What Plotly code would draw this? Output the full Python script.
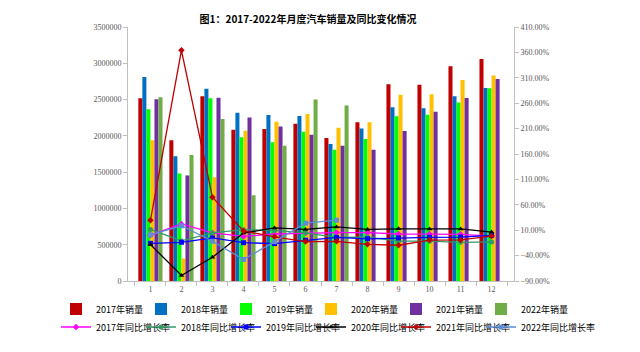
import plotly.graph_objects as go

months = [str(i) for i in range(1, 13)]

sales_2017 = [2518700, 1938700, 2544400, 2084000, 2096000, 2166600, 1969000, 2186100, 2710000, 2705600, 2960000, 3060000]
sales_2018 = [2810600, 1718900, 2650500, 2319100, 2287900, 2273700, 1888800, 2100300, 2394000, 2382000, 2545000, 2660000]
sales_2019 = [2367300, 1481500, 2519600, 1980000, 1913000, 2056000, 1807000, 1958000, 2270000, 2290000, 2460000, 2655000]
sales_2020 = [1940800, 309700, 1429400, 2070000, 2193000, 2300000, 2113000, 2186000, 2565000, 2573000, 2769000, 2831000]
sales_2021 = [2503000, 1454700, 2525700, 2252000, 2128000, 2015000, 1864000, 1808000, 2067000, 2333000, 2521000, 2785000]
sales_2022 = [2531000, 1736600, 2234000, 1181000, 1862000, 2502000, 2420000, None, None, None, None, None]

yoy_2017 = [0.2, 22.4, 4.7, -2.2, 2.5, 4.5, 5.3, 5.3, 2.5, 2.4, 1.9, -1.6]
yoy_2018 = [11.6, -11.1, 4.7, 11.1, 9.6, 4.8, -4.0, -3.8, -11.6, -11.7, -13.9, -13.0]
yoy_2019 = [-15.8, -13.8, -5.2, -14.6, -16.4, -9.6, -4.3, -6.9, -5.2, -4.0, -3.6, -0.1]
yoy_2020 = [-18.0, -79.1, -43.3, 4.4, 14.5, 11.6, 16.4, 11.6, 12.8, 12.5, 12.6, 6.4]
yoy_2021 = [29.5, 364.2, 74.9, 8.6, -3.1, -12.4, -11.9, -17.8, -19.6, -9.4, -9.1, -1.6]
yoy_2022 = [0.9, 18.7, -11.7, -47.6, -12.6, 23.8, 29.7, None, None, None, None, None]

bar_names = ["2017年销量", "2018年销量", "2019年销量", "2020年销量", "2021年销量", "2022年销量"]
line_names = ["2017年同比增长率", "2018年同比增长率", "2019年同比增长率", "2020年同比增长率", "2021年同比增长率", "2022年同比增长率"]
bar_colors = ["#C00000", "#0070C0", "#00FF00", "#FFC000", "#7030A0", "#70AD47"]
line_colors = ["#FF00FF", "#339966", "#0000FF", "#000000", "#C00000", "#5B8DD9"]
line_symbols = ["diamond", "circle", "square", "triangle-up", "diamond", "square"]

sales = [sales_2017, sales_2018, sales_2019, sales_2020, sales_2021, sales_2022]
yoys = [yoy_2017, yoy_2018, yoy_2019, yoy_2020, yoy_2021, yoy_2022]

fig = go.Figure()
for i, (name, vals, col) in enumerate(zip(bar_names, sales, bar_colors)):
    fig.add_trace(go.Bar(x=months, y=vals, name=name, marker_color=col,
                         marker_line_width=0, yaxis="y",
                         legend="legend" if i == 0 else f"legend{i + 1}"))
for i, (name, vals, col, sym) in enumerate(zip(line_names, yoys, line_colors, line_symbols)):
    fig.add_trace(go.Scatter(x=months, y=vals, name=name, mode="lines+markers",
                             line=dict(color=col, width=1.3),
                             marker=dict(symbol=sym, size=5, color=col),
                             yaxis="y2", legend=f"legend{i + 7}"))

axis_font = dict(family="Liberation Serif, DejaVu Serif, serif", size=8, color="#595959")
legend_font = dict(family="Noto Sans CJK SC", size=9, color="#000000")

layout = dict(
    width=640, height=352,
    margin=dict(l=128, r=126, t=27, b=71, autoexpand=False),
    paper_bgcolor="white", plot_bgcolor="white",
    barmode="group", bargap=0.22, bargroupgap=0,
    title=dict(text="<b>图1：2017-2022年月度汽车销量及同比变化情况</b>",
               x=308/640, xanchor="center", y=1-19/352, yanchor="middle",
               font=dict(family="Noto Sans CJK SC", size=10, color="#000000")),
    xaxis=dict(type="category", showline=True, linecolor="#BFBFBF", linewidth=1,
               ticks="outside", tickson="boundaries", ticklen=4, tickcolor="#BFBFBF",
               tickfont=axis_font, showgrid=False, zeroline=False),
    yaxis=dict(range=[0, 3500000], dtick=500000, tickformat="d",
               showline=True, linecolor="#BFBFBF", linewidth=1,
               ticks="outside", ticklen=4, tickcolor="#BFBFBF",
               tickfont=axis_font, showgrid=False, zeroline=False),
    yaxis2=dict(range=[-90, 410], tick0=-90, dtick=50, tickformat=".2f", ticksuffix="%",
                overlaying="y", side="right",
                showline=True, linecolor="#BFBFBF", linewidth=1,
                ticks="outside", ticklen=4, tickcolor="#BFBFBF",
                tickfont=axis_font, showgrid=False, zeroline=False),
    showlegend=True,
)

col_x = [56, 141, 226, 311, 396, 481]
row_y = [309, 327]
for k in range(12):
    key = "legend" if k == 0 else f"legend{k + 1}"
    layout[key] = dict(orientation="h", xref="container", yref="container",
                       x=col_x[k % 6] / 640, xanchor="left",
                       y=1 - row_y[k // 6] / 352, yanchor="middle",
                       itemwidth=30, font=legend_font,
                       bgcolor="rgba(0,0,0,0)")

fig.update_layout(**layout)
fig.write_html("out.html")
